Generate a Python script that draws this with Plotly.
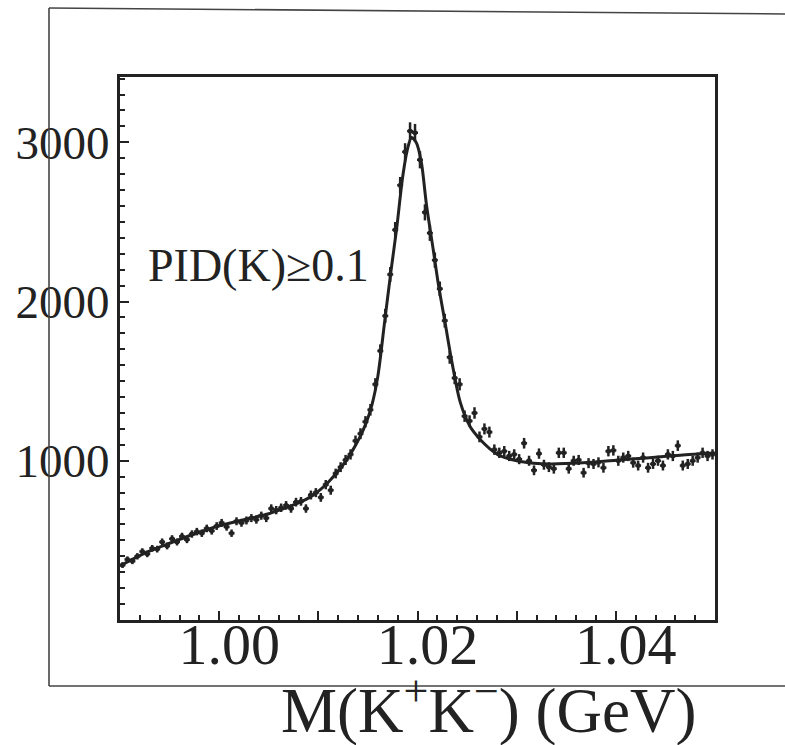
import math
import plotly.graph_objects as go

# K+K- invariant mass spectrum, bin width 0.5 MeV
bin_width = 0.0005
mass_lo = 0.99
counts = [
    345, 380, 370, 400, 430, 415, 450, 445, 490, 465,
    510, 490, 525, 505, 540, 555, 545, 575, 560, 590,
    610, 585, 545, 620, 610, 625, 640, 630, 655, 640,
    700, 690, 705, 720, 700, 740, 745, 700, 785, 800,
    770, 850, 815, 920, 960, 1005, 1040, 1125, 1170, 1245,
    1320, 1480, 1690, 1910, 2170, 2450, 2730, 2940, 3070, 3060,
    2890, 2560, 2430, 2260, 2080, 1880, 1650, 1520, 1480, 1280,
    1250, 1300, 1150, 1200, 1180, 1070, 1050, 1060, 1030, 1040,
    1010, 1110, 1000, 940, 1045, 975, 960, 950, 1050, 1050,
    950, 1000, 1005, 925, 985, 980, 990, 956, 1060, 1065,
    1000, 1020, 1030, 988, 970, 1020, 956, 980, 1000, 970,
    1040, 1030, 1095, 970, 980, 1000, 1020, 1050, 1030, 1040,
]
mass = [mass_lo + bin_width * (i + 0.5) for i in range(len(counts))]
count_err = [math.sqrt(c) for c in counts]

# fitted signal + background line
fit_mass = [
    0.9900, 0.9925, 0.9950, 0.9975, 1.0000, 1.0025, 1.0050, 1.0065, 1.0080,
    1.0095, 1.0110, 1.0125, 1.0135, 1.0142, 1.0148, 1.0154, 1.0160, 1.0167,
    1.0173, 1.0179, 1.0185, 1.0190, 1.0194, 1.0199, 1.0204, 1.0209, 1.0216,
    1.0221, 1.0228, 1.0235, 1.0243, 1.0253, 1.0263, 1.0273, 1.0283, 1.0300,
    1.0317, 1.0334, 1.0367, 1.0400, 1.0431, 1.0465, 1.0500,
]
fit_counts = [
    340, 420, 482, 540, 592, 630, 667, 700, 735,
    785, 865, 975, 1070, 1150, 1235, 1350, 1530, 1880,
    2180, 2460, 2780, 2960, 3030, 2995, 2870, 2610, 2320,
    2110, 1860, 1610, 1370, 1215, 1135, 1075, 1032, 1000,
    985, 980, 987, 1003, 1018, 1035, 1048,
]

x_ticks = [0.99, 1.00, 1.01, 1.02, 1.03, 1.04, 1.05]
x_labels = ["", "1.00", "", "1.02", "", "1.04", ""]
y_ticks = [0, 1000, 2000, 3000]
y_labels = ["", "1000", "2000", "3000"]

ink = "#222222"
serif = "Liberation Serif, Times New Roman, serif"

fig = go.Figure()
fig.add_trace(go.Scatter(
    x=fit_mass, y=fit_counts, mode="lines",
    line=dict(color=ink, width=3, shape="spline", smoothing=0.8),
    hoverinfo="skip", showlegend=False,
))
fig.add_trace(go.Scatter(
    x=mass, y=counts, mode="markers",
    marker=dict(symbol="square", size=4, color=ink),
    error_y=dict(type="data", array=count_err, color=ink, thickness=2.5, width=0),
    error_x=dict(type="constant", value=bin_width * 0.6, color=ink, thickness=2.5, width=0),
    showlegend=False,
))

W, H = 785, 745
L, R, T, B = 120, 70, 77, 125
pw, ph = W - L - R, H - T - B


def px(xp):
    return (xp - L) / pw


def py(yp):
    return (H - B - yp) / ph


# outer frame around the whole panel
frame = dict(type="line", xref="paper", yref="paper", line=dict(color="#444", width=1.6))
fig.add_shape(**frame, x0=px(49), y0=py(8), x1=px(49), y1=py(686))
fig.add_shape(**frame, x0=px(49), y0=py(8), x1=px(790), y1=py(14))
fig.add_shape(**frame, x0=px(49), y0=py(686), x1=px(790), y1=py(686))

fig.add_annotation(
    text="PID(K)\u22650.1", xref="paper", yref="paper", x=px(146), y=py(265),
    xanchor="left", yanchor="middle", showarrow=False,
    font=dict(family=serif, size=46, color=ink),
)
fig.add_annotation(
    text="M(K<sup>+</sup>K<sup>\u2212</sup>) (GeV)", xref="paper", yref="paper",
    x=px(488), y=py(706), xanchor="center", yanchor="middle", showarrow=False,
    font=dict(family=serif, size=63, color=ink),
)

fig.update_xaxes(
    range=[0.99, 1.05], tickmode="array", tickvals=x_ticks, ticktext=x_labels,
    ticks="inside", ticklen=9, tickwidth=2, tickcolor=ink,
    minor=dict(tickmode="linear", tick0=0.99, dtick=0.002, ticks="inside",
               ticklen=5, tickwidth=2, tickcolor=ink),
    showline=True, linewidth=3, linecolor=ink, mirror=True,
    showgrid=False, zeroline=False, ticklabelshift=10, ticklabelstandoff=-29,
    tickfont=dict(family=serif, size=58, color=ink),
)
fig.update_yaxes(
    range=[0, 3410], tickmode="array", tickvals=y_ticks, ticktext=y_labels,
    ticks="inside", ticklen=9, tickwidth=2, tickcolor=ink,
    minor=dict(tickmode="linear", tick0=0, dtick=100, ticks="inside",
               ticklen=5, tickwidth=2, tickcolor=ink),
    showline=True, linewidth=3, linecolor=ink, mirror=True,
    showgrid=False, zeroline=False, ticklabelstandoff=-2,
    tickfont=dict(family=serif, size=47, color=ink),
)
fig.update_layout(
    width=W, height=H, margin=dict(l=L, r=R, t=T, b=B),
    paper_bgcolor="white", plot_bgcolor="white",
)

fig.write_html("out.html")
